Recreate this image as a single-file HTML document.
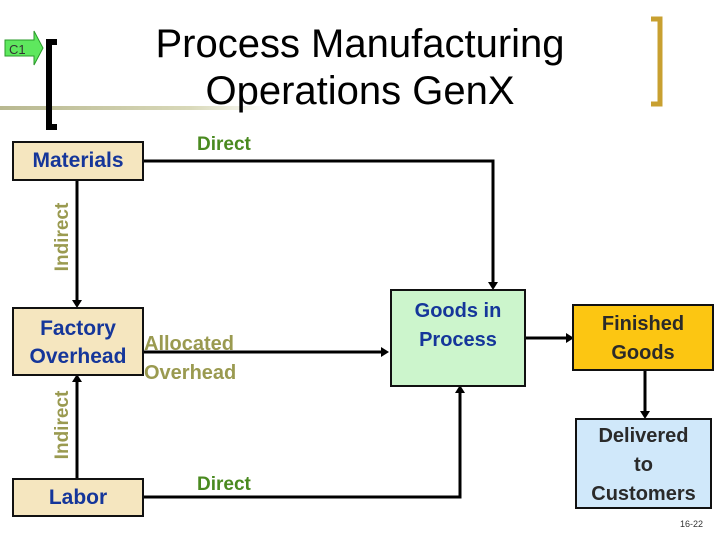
<!DOCTYPE html>
<html><head><style>
body{margin:0;width:720px;height:540px;background:#fff;position:relative;overflow:hidden;font-family:"Liberation Sans",Arial,sans-serif}
.a{position:absolute}
.box{position:absolute;border:2px solid #111;box-sizing:border-box;text-align:center;font-weight:bold}
.m{background:#f5e6bf;color:#15369a;font-size:21px}
</style></head><body>
<div class="a" style="left:0;top:106px;width:270px;height:4px;background:linear-gradient(90deg,#b8b890,#d8d8b8 70%,#fff)"></div>
<svg class="a" style="left:0;top:0" width="720" height="540">
<polygon points="5,40 34,40 34,31 43,48 34,65 34,56 5,56" fill="#5ee85e" stroke="#2a9a2a"/>
<text x="9" y="54" font-family="Liberation Sans" font-size="13" fill="#333">C1</text>
<path d="M57,42 H49 V127 H57" fill="none" stroke="#000" stroke-width="6"/>
<path d="M651,19 H660 V104 H651" fill="none" stroke="#c8a030" stroke-width="5"/>
<g stroke="#000" stroke-width="3" fill="none">
<path d="M143,161 H493 V286"/>
<path d="M77,180 V304"/>
<path d="M77,478 V378"/>
<path d="M143,352 H383"/>
<path d="M143,497 H460 V389"/>
<path d="M525,338 H569"/>
<path d="M645,370 V415"/>
</g>
<g fill="#000">
<polygon points="488,282 498,282 493,290"/>
<polygon points="72,300 82,300 77,308"/>
<polygon points="72,382 82,382 77,374"/>
<polygon points="381,347 381,357 389,352"/>
<polygon points="455,393 465,393 460,385"/>
<polygon points="566,333 566,343 574,338"/>
<polygon points="640,411 650,411 645,419"/>
</g>
<text transform="translate(68,237) rotate(-90)" text-anchor="middle" font-family="Liberation Sans" font-weight="bold" font-size="19" fill="#9a9a50">Indirect</text>
<text transform="translate(68,425) rotate(-90)" text-anchor="middle" font-family="Liberation Sans" font-weight="bold" font-size="19" fill="#9a9a50">Indirect</text>
</svg>
<div class="a" style="left:100px;top:21px;width:520px;text-align:center;font-size:40px;line-height:47px;color:#000">Process Manufacturing<br>Operations GenX</div>
<div class="box m" style="left:12px;top:141px;width:132px;height:40px;line-height:36px">Materials</div>
<div class="box m" style="left:12px;top:307px;width:132px;height:69px;padding-top:6px;line-height:28px">Factory<br>Overhead</div>
<div class="box m" style="left:12px;top:478px;width:132px;height:39px;line-height:35px">Labor</div>
<div class="box" style="left:390px;top:289px;width:136px;height:98px;background:#ccf5cc;color:#15369a;font-size:20px;line-height:29px;padding-top:6px">Goods in<br>Process</div>
<div class="box" style="left:572px;top:304px;width:142px;height:67px;background:#fcc612;color:#2a2a2a;font-size:20px;line-height:29px;padding-top:4px">Finished<br>Goods</div>
<div class="box" style="left:575px;top:418px;width:137px;height:91px;background:#d0e8fa;color:#2a2a2a;font-size:20px;line-height:29px;padding-top:2px">Delivered<br>to<br>Customers</div>
<div class="a" style="left:197px;top:134px;font-size:19px;font-weight:bold;color:#4a8a20">Direct</div>
<div class="a" style="left:197px;top:474px;font-size:19px;font-weight:bold;color:#4a8a20">Direct</div>
<div class="a" style="left:144px;top:330px;font-size:20px;font-weight:bold;color:#9a9a50;line-height:29px">Allocated<br>Overhead</div>
<div class="a" style="left:680px;top:519px;font-size:9px;color:#333">16-22</div>
</body></html>
